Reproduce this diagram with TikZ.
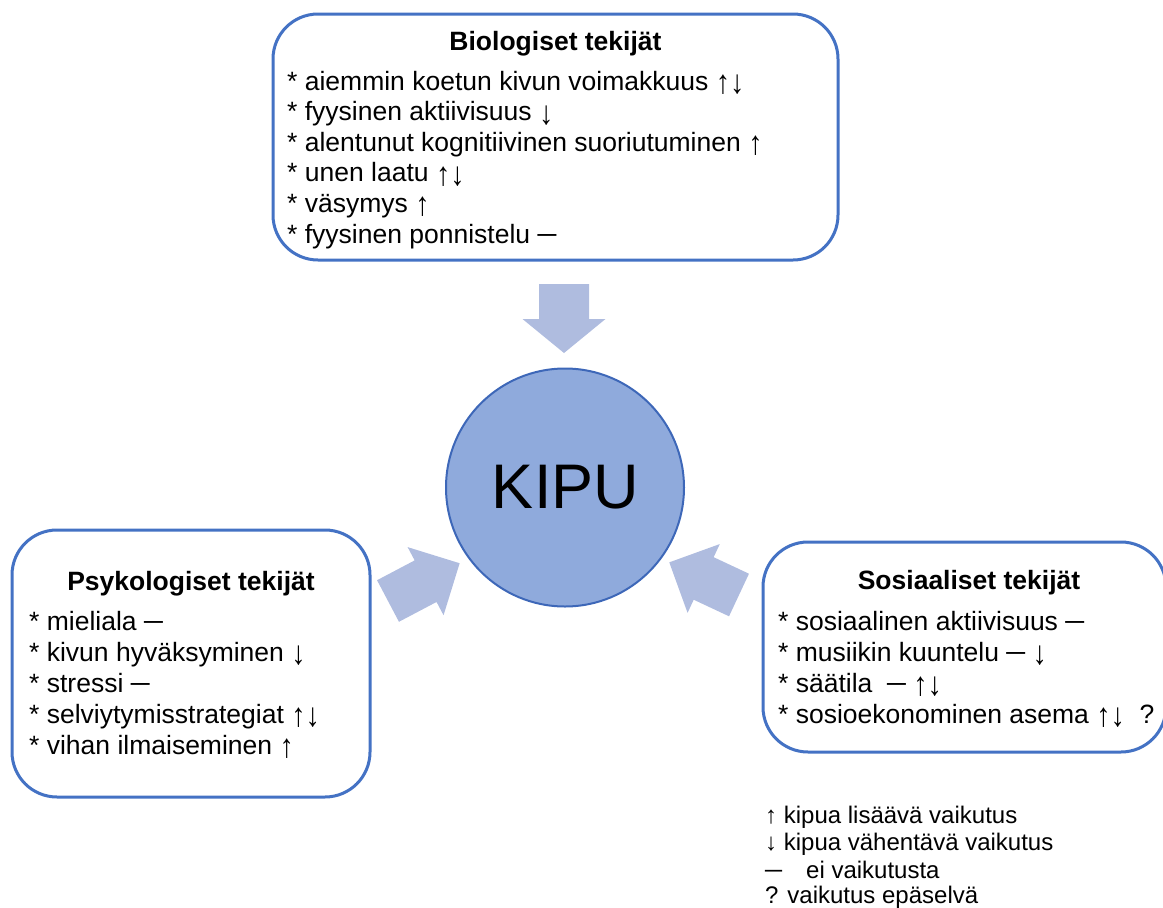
\documentclass[tikz,border=0pt]{standalone}
\usepackage{fontspec}
\usepackage{graphicx}
\setmainfont{Liberation Sans}
\definecolor{boxblue}{HTML}{4472C4}
\definecolor{circline}{HTML}{3D67B8}
\definecolor{circfill}{HTML}{8FAADC}
\definecolor{arrfill}{HTML}{AFBCDF}
\newcommand\UpA{\raisebox{-3.5pt}{\scalebox{1.08}[1.25]{↑}}}
\newcommand\DnA{\raisebox{-3.5pt}{\scalebox{1.08}[1.25]{↓}}}
\newcommand\BArrow[7]{%
  \fill[arrfill, shift={(#1,#2)}, rotate=#3]
    (0,-#6) -- ({#4-#5},-#6) -- ({#4-#5},-#7) -- (#4,0) -- ({#4-#5},#7) -- ({#4-#5},#6) -- (0,#6) -- cycle;}
\begin{document}
\begin{tikzpicture}[x=1pt,y=-1pt,
  factorbox/.style={draw=boxblue, line width=3pt, rounded corners=45pt, fill=white, inner sep=0pt},
  titletext/.style={font=\fontsize{26.5}{31}\selectfont\bfseries, anchor=base, inner sep=0pt},
  itemtext/.style={font=\fontsize{26.5}{31}\selectfont, anchor=base west, inner sep=0pt},
  legendtext/.style={font=\fontsize{24}{28}\selectfont, anchor=base west, inner sep=0pt}]
\useasboundingbox (0,0) rectangle (1163,908);

% boxes
\node[factorbox, minimum width=565pt, minimum height=246pt] (bio) at (555.5,137) {};
\node[factorbox, minimum width=358pt, minimum height=267pt] (psy) at (191,663.5) {};
\node[factorbox, minimum width=403pt, minimum height=210pt] (sos) at (964.5,647) {};

% block arrows
\BArrow{564}{284}{-90}{69}{34}{25}{41.5}
\BArrow{388}{601}{27.8}{81}{38.5}{23.5}{38.5}
\BArrow{739}{595}{154.9}{77}{38}{23.5}{38}

% centre circle
\node[circle, draw=circline, line width=2pt, fill=circfill, minimum size=238pt, inner sep=0pt] (kipu) at (565,487.5) {};
\node[font=\fontsize{63}{70}\selectfont, anchor=base, inner sep=0pt] (kipulabel) at (565.5,508) {KIPU};

% biological
\node[titletext] (bioT) at (555.5,50) {Biologiset tekijät};
\foreach \t [count=\i] in {%
  * aiemmin koetun kivun voimakkuus \UpA\DnA,
  * fyysinen aktiivisuus \DnA,
  * alentunut kognitiivinen suoriutuminen \UpA,
  * unen laatu \UpA\DnA,
  * väsymys \UpA,
  * fyysinen ponnistelu ─}
  \node[itemtext] (bio\i) at (287,{90+30.6*(\i-1)}) {\t};

% psychological
\node[titletext] (psyT) at (191,590) {Psykologiset tekijät};
\foreach \t [count=\i] in {%
  * mieliala ─,
  * kivun hyväksyminen \DnA,
  * stressi ─,
  * selviytymisstrategiat \UpA\DnA,
  * vihan ilmaiseminen \UpA}
  \node[itemtext] (psy\i) at (29,{630+31*(\i-1)}) {\t};

% social
\node[titletext] (sosT) at (969,589) {Sosiaaliset tekijät};
\foreach \t [count=\i] in {%
  * sosiaalinen aktiivisuus ─,
  * musiikin kuuntelu ─ \DnA,
  * säätila\ \ ─ \UpA\DnA,
  * sosioekonominen asema \UpA\DnA\ \ ?}
  \node[itemtext] (sos\i) at (778,{630+31*(\i-1)}) {\t};

% legend
\node[legendtext] (leg1) at (765,823) {↑ kipua lisäävä vaikutus};
\node[legendtext] (leg2) at (765,850.5) {↓ kipua vähentävä vaikutus};
\node[legendtext] (leg3) at (765,878) {─\hspace{24pt}ei vaikutusta};
\node[legendtext] (leg4) at (765,903.5) {? vaikutus epäselvä};
\end{tikzpicture}
\end{document}
